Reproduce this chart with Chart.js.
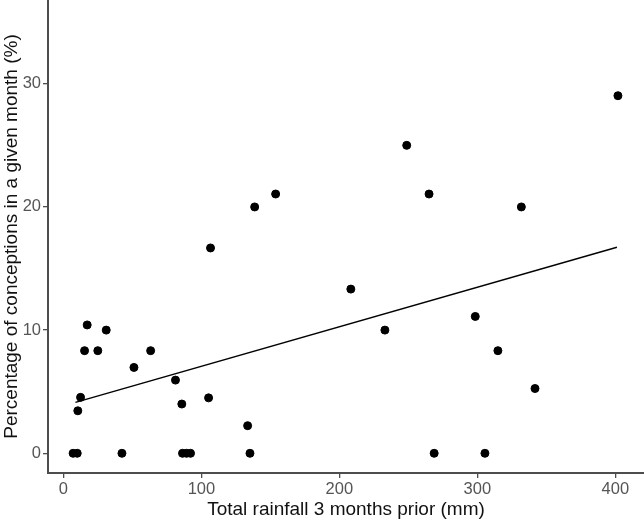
<!DOCTYPE html>
<html>
<head>
<meta charset="utf-8">
<script src="https://cdn.jsdelivr.net/npm/chart.js@4"></script>
<style>
  html, body { margin: 0; padding: 0; background: #fff; }
  #wrap { width: 644px; height: 521px; }
</style>
</head>
<body>
<div id="wrap"><canvas id="chart" width="644" height="521"></canvas></div>
<script>
// rainfall (mm) vs conceptions (%)
const rainfall = [7, 10, 10.4, 12.4, 15.3, 17.2, 24.9, 31, 42.4, 51.1, 63.2, 81.2, 85.8, 86.3, 89.2, 92.1, 105.2, 106.6, 133.5, 135.2, 138.6, 153.8, 208.3, 233, 248.8, 265, 268.7, 298.5, 305.5, 314.9, 331.9, 341.8, 401.9];
const conceptions = [0, 0, 3.45, 4.54, 8.33, 10.42, 8.33, 10, 0, 6.97, 8.33, 5.94, 4.0, 0, 0, 0, 4.5, 16.67, 2.24, 0, 20, 21.05, 13.33, 10, 25, 21.05, 0, 11.11, 0, 8.33, 20, 5.26, 29.03];

// fitted line end points
const fitX = [8.7, 401.2];
const fitY = [4.13, 16.73];

const xTicks = [0, 100, 200, 300, 400];
const yTicks = [0, 10, 20, 30];

const points = rainfall.map((x, i) => ({ x: x, y: conceptions[i] }));
const fitLine = fitX.map((x, i) => ({ x: x, y: fitY[i] }));

const tickFont = { family: 'Liberation Sans, Arial, sans-serif', size: 16.5 };
const titleFont = { family: 'Liberation Sans, Arial, sans-serif', size: 19 };

new Chart(document.getElementById('chart').getContext('2d'), {
  type: 'scatter',
  data: {
    datasets: [
      {
        data: points,
        backgroundColor: '#000',
        borderColor: '#000',
        pointRadius: 4,
        pointHoverRadius: 4
      },
      {
        type: 'line',
        data: fitLine,
        borderColor: '#000',
        borderWidth: 1.4,
        pointRadius: 0,
        fill: false
      }
    ]
  },
  options: {
    responsive: false,
    animation: false,
    layout: { padding: 0, autoPadding: false },
    plugins: {
      legend: { display: false },
      tooltip: { enabled: false }
    },
    scales: {
      x: {
        type: 'linear',
        min: -11.2,
        max: 420.8,
        afterBuildTicks: axis => { axis.ticks = xTicks.map(v => ({ value: v })); },
        afterFit: axis => {
          axis.height = 48;
          axis.paddingLeft = 0;
          axis.paddingRight = 0;
        },
        grid: { drawOnChartArea: false, drawTicks: true, tickLength: 5, color: '#4d4d4d', lineWidth: 1.3 },
        border: { display: true, color: '#4d4d4d', width: 2 },
        ticks: { color: '#555', font: tickFont, padding: 2, maxRotation: 0 },
        title: { display: true, text: 'Total rainfall 3 months prior (mm)', color: '#111', font: titleFont, padding: { top: 0, bottom: 0 } }
      },
      y: {
        type: 'linear',
        min: -1.6,
        max: 36.8,
        afterBuildTicks: axis => { axis.ticks = yTicks.map(v => ({ value: v })); },
        afterFit: axis => {
          axis.width = 48;
          axis.paddingTop = 0;
          axis.paddingBottom = 0;
        },
        grid: { drawOnChartArea: false, drawTicks: true, tickLength: 5, color: '#4d4d4d', lineWidth: 1.3 },
        border: { display: true, color: '#4d4d4d', width: 2 },
        ticks: { color: '#555', font: tickFont, padding: 2 },
        title: { display: true, text: 'Percentage of conceptions in a given month (%)', color: '#111', font: titleFont, padding: { top: 0, bottom: 0 } }
      }
    }
  }
});
</script>
</body>
</html>
